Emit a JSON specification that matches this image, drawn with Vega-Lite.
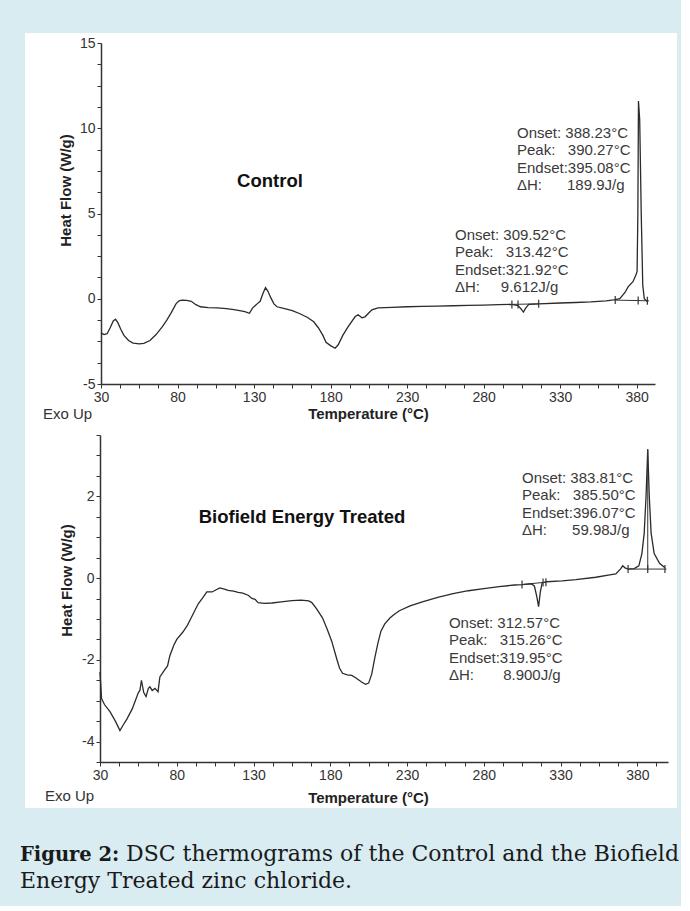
{
  "$schema": "https://vega.github.io/schema/vega-lite/v6.json",
  "background": "#d8ecf2",
  "padding": {"left": 20, "top": 33, "right": 2, "bottom": 0},
  "bounds": "flush",
  "spacing": 0,
  "config": {
    "font": "Liberation Sans",
    "view": {"stroke": null},
    "axis": {
      "grid": false,
      "labelFont": "Liberation Sans",
      "labelFontSize": 14,
      "labelColor": "#333",
      "domainColor": "#333",
      "domainWidth": 1.5,
      "tickColor": "#333",
      "tickWidth": 1,
      "titleFont": "Liberation Sans",
      "titleFontSize": 15,
      "titleFontWeight": "bold",
      "titleColor": "#222",
      "labelOverlap": false,
      "labelBound": false,
      "labelFlush": false
    }
  },
  "datasets": {
    "control": [
      {"T": 30, "HF": -2.0}, {"T": 32, "HF": -2.1}, {"T": 34, "HF": -2.05}, {"T": 36, "HF": -1.7},
      {"T": 38, "HF": -1.3}, {"T": 39.5, "HF": -1.2}, {"T": 41, "HF": -1.4}, {"T": 43, "HF": -1.8},
      {"T": 45, "HF": -2.15}, {"T": 48, "HF": -2.45}, {"T": 51, "HF": -2.6}, {"T": 55, "HF": -2.65},
      {"T": 58, "HF": -2.62}, {"T": 62, "HF": -2.45}, {"T": 66, "HF": -2.1}, {"T": 70, "HF": -1.65},
      {"T": 73, "HF": -1.25}, {"T": 76, "HF": -0.8}, {"T": 79, "HF": -0.3}, {"T": 81, "HF": -0.12},
      {"T": 83, "HF": -0.08}, {"T": 86, "HF": -0.1}, {"T": 89, "HF": -0.15}, {"T": 92, "HF": -0.35},
      {"T": 95, "HF": -0.47}, {"T": 100, "HF": -0.52}, {"T": 106, "HF": -0.53}, {"T": 112, "HF": -0.58},
      {"T": 118, "HF": -0.65}, {"T": 124, "HF": -0.75}, {"T": 127, "HF": -0.85}, {"T": 129, "HF": -0.55},
      {"T": 132, "HF": -0.3}, {"T": 134, "HF": -0.15}, {"T": 136, "HF": 0.35}, {"T": 137.5, "HF": 0.65},
      {"T": 139, "HF": 0.45}, {"T": 141, "HF": 0.05}, {"T": 143, "HF": -0.3}, {"T": 145, "HF": -0.47},
      {"T": 150, "HF": -0.58}, {"T": 155, "HF": -0.7}, {"T": 160, "HF": -0.88}, {"T": 165, "HF": -1.1},
      {"T": 169, "HF": -1.35}, {"T": 172, "HF": -1.7}, {"T": 175, "HF": -2.15}, {"T": 177, "HF": -2.55},
      {"T": 180, "HF": -2.75}, {"T": 183, "HF": -2.9}, {"T": 185, "HF": -2.7}, {"T": 188, "HF": -2.15},
      {"T": 191.4, "HF": -1.65}, {"T": 196, "HF": -1.06}, {"T": 198, "HF": -0.94}, {"T": 200.5, "HF": -1.12},
      {"T": 202.5, "HF": -1.06}, {"T": 207, "HF": -0.65}, {"T": 211, "HF": -0.53}, {"T": 220, "HF": -0.5},
      {"T": 230, "HF": -0.47}, {"T": 240, "HF": -0.45}, {"T": 250, "HF": -0.43}, {"T": 260, "HF": -0.41},
      {"T": 270, "HF": -0.39}, {"T": 280, "HF": -0.37}, {"T": 290, "HF": -0.35}, {"T": 298.5, "HF": -0.33},
      {"T": 302.5, "HF": -0.4}, {"T": 304.5, "HF": -0.6}, {"T": 306, "HF": -0.78}, {"T": 307.5, "HF": -0.55},
      {"T": 309.5, "HF": -0.33}, {"T": 316, "HF": -0.3}, {"T": 330, "HF": -0.25}, {"T": 340, "HF": -0.22},
      {"T": 350, "HF": -0.18}, {"T": 360, "HF": -0.12}, {"T": 365, "HF": -0.07}, {"T": 369, "HF": 0.0},
      {"T": 372.4, "HF": 0.37}, {"T": 374.4, "HF": 0.7}, {"T": 377.6, "HF": 1.0}, {"T": 379.6, "HF": 1.4},
      {"T": 380.3, "HF": 1.6}, {"T": 380.8, "HF": 5.0}, {"T": 381.2, "HF": 11.6}, {"T": 382.0, "HF": 10.5},
      {"T": 383.0, "HF": 5.0}, {"T": 384.0, "HF": 0.8}, {"T": 385.0, "HF": 0.0}, {"T": 387.4, "HF": -0.2}
    ],
    "treated": [
      {"T": 30, "HF": -2.3}, {"T": 31, "HF": -2.95}, {"T": 33, "HF": -3.1}, {"T": 36.5, "HF": -3.27},
      {"T": 40, "HF": -3.5}, {"T": 43, "HF": -3.73}, {"T": 45, "HF": -3.6}, {"T": 47.5, "HF": -3.45},
      {"T": 51, "HF": -3.2}, {"T": 53, "HF": -3.0}, {"T": 55, "HF": -2.8}, {"T": 56, "HF": -2.75},
      {"T": 57, "HF": -2.5}, {"T": 58.5, "HF": -2.8}, {"T": 60, "HF": -2.9}, {"T": 61.5, "HF": -2.7},
      {"T": 62.5, "HF": -2.66}, {"T": 64, "HF": -2.75}, {"T": 65.8, "HF": -2.7}, {"T": 67.8, "HF": -2.78},
      {"T": 69, "HF": -2.42}, {"T": 72, "HF": -2.25}, {"T": 74, "HF": -2.15}, {"T": 75.5, "HF": -1.9},
      {"T": 78, "HF": -1.65}, {"T": 80, "HF": -1.5}, {"T": 84, "HF": -1.32}, {"T": 87, "HF": -1.15},
      {"T": 90, "HF": -0.93}, {"T": 94, "HF": -0.63}, {"T": 97, "HF": -0.48}, {"T": 99.6, "HF": -0.34},
      {"T": 103, "HF": -0.34}, {"T": 106, "HF": -0.28}, {"T": 108, "HF": -0.24}, {"T": 111, "HF": -0.27},
      {"T": 113.5, "HF": -0.3}, {"T": 117, "HF": -0.32}, {"T": 120, "HF": -0.35}, {"T": 123, "HF": -0.37},
      {"T": 126.5, "HF": -0.42}, {"T": 129, "HF": -0.5}, {"T": 131, "HF": -0.52}, {"T": 133, "HF": -0.6},
      {"T": 137, "HF": -0.62}, {"T": 142, "HF": -0.61}, {"T": 148, "HF": -0.58}, {"T": 155, "HF": -0.55},
      {"T": 161, "HF": -0.54}, {"T": 166, "HF": -0.56}, {"T": 168, "HF": -0.6}, {"T": 171, "HF": -0.75},
      {"T": 175, "HF": -0.98}, {"T": 178, "HF": -1.25}, {"T": 181, "HF": -1.55}, {"T": 184, "HF": -1.95},
      {"T": 186, "HF": -2.2}, {"T": 188, "HF": -2.33}, {"T": 191, "HF": -2.37}, {"T": 194, "HF": -2.38},
      {"T": 197, "HF": -2.45}, {"T": 200.6, "HF": -2.55}, {"T": 203, "HF": -2.6}, {"T": 205, "HF": -2.57},
      {"T": 207, "HF": -2.35}, {"T": 209, "HF": -1.95}, {"T": 211, "HF": -1.6}, {"T": 213, "HF": -1.3},
      {"T": 215.5, "HF": -1.12}, {"T": 219, "HF": -0.97}, {"T": 222, "HF": -0.88}, {"T": 225, "HF": -0.8},
      {"T": 232, "HF": -0.68}, {"T": 240, "HF": -0.58}, {"T": 250, "HF": -0.47}, {"T": 260, "HF": -0.38},
      {"T": 270, "HF": -0.31}, {"T": 280, "HF": -0.26}, {"T": 290, "HF": -0.21}, {"T": 300, "HF": -0.17},
      {"T": 305, "HF": -0.16}, {"T": 311, "HF": -0.14}, {"T": 313, "HF": -0.2}, {"T": 314.5, "HF": -0.45},
      {"T": 315.7, "HF": -0.7}, {"T": 316.8, "HF": -0.35}, {"T": 318, "HF": -0.12}, {"T": 321, "HF": -0.09},
      {"T": 331, "HF": -0.07}, {"T": 340, "HF": -0.04}, {"T": 353, "HF": 0.02}, {"T": 362, "HF": 0.08},
      {"T": 366, "HF": 0.1}, {"T": 369, "HF": 0.22}, {"T": 370.5, "HF": 0.3}, {"T": 372, "HF": 0.25},
      {"T": 374, "HF": 0.22}, {"T": 378, "HF": 0.23}, {"T": 381, "HF": 0.3}, {"T": 383, "HF": 0.6},
      {"T": 384.5, "HF": 1.1}, {"T": 385.7, "HF": 2.0}, {"T": 386.8, "HF": 3.15}, {"T": 387.8, "HF": 2.0},
      {"T": 389, "HF": 1.1}, {"T": 391, "HF": 0.6}, {"T": 394.5, "HF": 0.36}, {"T": 398, "HF": 0.25}
    ],
    "control_ann": [
      {"kind": "title", "T": 140.4, "HF": 6.58, "label": "Control"},
      {"kind": "block", "T": 301.8, "HF": 9.43, "label": ["Onset: 388.23°C", "Peak:\u00a0\u00a0\u00a0390.27°C", "Endset:395.08°C", "ΔH:\u00a0\u00a0\u00a0\u00a0\u00a0\u00a0189.9J/g"]},
      {"kind": "block", "T": 261.3, "HF": 3.45, "label": ["Onset: 309.52°C", "Peak:\u00a0\u00a0\u00a0313.42°C", "Endset:321.92°C", "ΔH:\u00a0\u00a0\u00a0\u00a0\u00a09.612J/g"]}
    ],
    "treated_ann": [
      {"kind": "title", "T": 161.6, "HF": 1.35, "label": "Biofield Energy Treated"},
      {"kind": "block", "T": 304.9, "HF": 2.33, "label": ["Onset: 383.81°C", "Peak:\u00a0\u00a0\u00a0385.50°C", "Endset:396.07°C", "ΔH:\u00a0\u00a0\u00a0\u00a0\u00a0\u00a059.98J/g"]},
      {"kind": "block", "T": 257.3, "HF": -1.22, "label": ["Onset: 312.57°C", "Peak:\u00a0\u00a0\u00a0315.26°C", "Endset:319.95°C", "ΔH:\u00a0\u00a0\u00a0\u00a0\u00a0\u00a0\u00a08.900J/g"]}
    ],
    "control_marks": [
      {"T": 298.5, "HF": -0.33}, {"T": 302.5, "HF": -0.34}, {"T": 316, "HF": -0.3},
      {"T": 366, "HF": -0.08}, {"T": 381, "HF": -0.1}, {"T": 387, "HF": -0.12}
    ],
    "control_base": [
      {"T": 298.5, "T2": 316, "HF": -0.33, "HF2": -0.3},
      {"T": 366, "T2": 388, "HF": -0.08, "HF2": -0.12}
    ],
    "treated_marks": [
      {"T": 304.9, "HF": -0.16}, {"T": 318.6, "HF": -0.11}, {"T": 320.5, "HF": -0.1},
      {"T": 374, "HF": 0.22}, {"T": 386.8, "HF": 0.22}, {"T": 398, "HF": 0.22}
    ],
    "treated_base": [
      {"T": 304.9, "T2": 320.5, "HF": -0.16, "HF2": -0.1},
      {"T": 374, "T2": 399, "HF": 0.22, "HF2": 0.22},
      {"T": 386.8, "T2": 386.8, "HF": 0.22, "HF2": 3.15}
    ],
    "caption": [
      {"id": "a", "line": 1, "seg": "Figure 2:"},
      {"id": "b", "line": 1, "seg": "DSC thermograms of the Control and the Biofield"},
      {"id": "c", "line": 2, "seg": "Energy Treated zinc chloride."}
    ]
  },
  "vconcat": [
    {
      "width": 652,
      "height": 392,
      "view": {"fill": "white", "stroke": null},
      "resolve": {"axis": {"x": "independent", "y": "independent"}},
      "layer": [
        {
          "data": {"name": "control"},
          "mark": {"type": "line", "color": "#2b2b2b", "strokeWidth": 1.3},
          "encoding": {
            "x": {
              "field": "T", "type": "quantitative",
              "scale": {"domain": [30, 392], "range": [76, 630], "nice": false, "zero": false},
              "axis": {
                "orient": "bottom", "offset": -41, "title": "Temperature (°C)",
                "values": [30, 42.5, 55, 67.5, 80, 92.5, 105, 117.5, 130, 142.5, 155, 167.5, 180, 192.5, 205, 217.5, 230, 242.5, 255, 267.5, 280, 292.5, 305, 317.5, 330, 342.5, 355, 367.5, 380],
                "labelExpr": "(datum.value - 30) % 50 === 0 ? '' + datum.value : ''",
                "tickSize": 4,
                "labelPadding": 2,
                "titleX": 343, "titleY": 34, "titleBaseline": "alphabetic", "titleAlign": "center"
              }
            },
            "y": {
              "field": "HF", "type": "quantitative",
              "scale": {"domain": [-5, 15], "range": [351, 10], "nice": false, "zero": false},
              "axis": {
                "orient": "left", "offset": -76, "title": "Heat Flow (W/g)",
                "values": [-5, -3.75, -2.5, -1.25, 0, 1.25, 2.5, 3.75, 5, 6.25, 7.5, 8.75, 10, 11.25, 12.5, 13.75, 15],
                "labelExpr": "datum.value % 5 === 0 ? '' + datum.value : ''",
                "tickSize": 4,
                "labelPadding": 2,
                "titleX": -36, "titleY": 157, "titleBaseline": "middle", "titleAlign": "center"
              }
            }
          }
        },
        {
          "data": {"name": "control_base"},
          "mark": {"type": "rule", "color": "#333", "strokeWidth": 1},
          "encoding": {
            "x": {"field": "T", "type": "quantitative", "axis": null},
            "x2": {"field": "T2"},
            "y": {"field": "HF", "type": "quantitative", "axis": null},
            "y2": {"field": "HF2"}
          }
        },
        {
          "data": {"name": "control_marks"},
          "mark": {"type": "point", "shape": "M0,-1L0,1", "size": 64, "stroke": "#333", "strokeWidth": 1.2, "filled": false, "opacity": 1},
          "encoding": {
            "x": {"field": "T", "type": "quantitative", "axis": null},
            "y": {"field": "HF", "type": "quantitative", "axis": null}
          }
        },
        {
          "data": {"name": "control_ann"},
          "transform": [{"filter": "datum.kind === 'title'"}],
          "mark": {"type": "text", "align": "center", "baseline": "alphabetic", "fontSize": 18.5, "fontWeight": "bold", "color": "#111"},
          "encoding": {
            "x": {"field": "T", "type": "quantitative", "axis": null},
            "y": {"field": "HF", "type": "quantitative", "axis": null},
            "text": {"field": "label"}
          }
        },
        {
          "data": {"name": "control_ann"},
          "transform": [{"filter": "datum.kind === 'block'"}],
          "mark": {"type": "text", "align": "left", "baseline": "alphabetic", "fontSize": 15, "lineHeight": 17.5, "color": "#3a3a3a"},
          "encoding": {
            "x": {
              "field": "T", "type": "quantitative",
              "axis": {"orient": "top", "labels": false, "ticks": false, "domain": false, "title": "Exo Up",
                       "titleX": 42, "titleY": 380, "titleFontWeight": "normal", "titleFontSize": 15, "titleColor": "#333",
                       "titleAlign": "center", "titleBaseline": "middle", "titleAngle": 0}
            },
            "y": {"field": "HF", "type": "quantitative", "axis": null},
            "text": {"field": "label"}
          }
        }
      ]
    },
    {
      "width": 652,
      "height": 383,
      "view": {"fill": "white", "stroke": null},
      "resolve": {"axis": {"x": "independent", "y": "independent"}},
      "layer": [
        {
          "data": {"name": "treated"},
          "mark": {"type": "line", "color": "#2b2b2b", "strokeWidth": 1.3},
          "encoding": {
            "x": {
              "field": "T", "type": "quantitative",
              "scale": {"domain": [30, 400], "range": [75, 643], "nice": false, "zero": false},
              "axis": {
                "orient": "bottom", "offset": -46, "title": "Temperature (°C)",
                "values": [30, 42.5, 55, 67.5, 80, 92.5, 105, 117.5, 130, 142.5, 155, 167.5, 180, 192.5, 205, 217.5, 230, 242.5, 255, 267.5, 280, 292.5, 305, 317.5, 330, 342.5, 355, 367.5, 380, 392.5],
                "labelExpr": "(datum.value - 30) % 50 === 0 ? '' + datum.value : ''",
                "tickSize": 4,
                "labelPadding": 2,
                "titleX": 343, "titleY": 40, "titleBaseline": "alphabetic", "titleAlign": "center"
              }
            },
            "y": {
              "field": "HF", "type": "quantitative",
              "scale": {"domain": [-4.5, 3.5], "range": [337, 10], "nice": false, "zero": false},
              "axis": {
                "orient": "left", "offset": -75, "title": "Heat Flow (W/g)",
                "values": [-4.5, -4, -3.5, -3, -2.5, -2, -1.5, -1, -0.5, 0, 0.5, 1, 1.5, 2, 2.5, 3, 3.5],
                "labelExpr": "datum.value % 2 === 0 ? '' + datum.value : ''",
                "tickSize": 4,
                "labelPadding": 2,
                "titleX": -34, "titleY": 155, "titleBaseline": "middle", "titleAlign": "center"
              }
            }
          }
        },
        {
          "data": {"name": "treated_base"},
          "mark": {"type": "rule", "color": "#333", "strokeWidth": 1},
          "encoding": {
            "x": {"field": "T", "type": "quantitative", "axis": null},
            "x2": {"field": "T2"},
            "y": {"field": "HF", "type": "quantitative", "axis": null},
            "y2": {"field": "HF2"}
          }
        },
        {
          "data": {"name": "treated_marks"},
          "mark": {"type": "point", "shape": "M0,-1L0,1", "size": 64, "stroke": "#333", "strokeWidth": 1.2, "filled": false, "opacity": 1},
          "encoding": {
            "x": {"field": "T", "type": "quantitative", "axis": null},
            "y": {"field": "HF", "type": "quantitative", "axis": null}
          }
        },
        {
          "data": {"name": "treated_ann"},
          "transform": [{"filter": "datum.kind === 'title'"}],
          "mark": {"type": "text", "align": "center", "baseline": "alphabetic", "fontSize": 18.5, "fontWeight": "bold", "color": "#111"},
          "encoding": {
            "x": {"field": "T", "type": "quantitative", "axis": null},
            "y": {"field": "HF", "type": "quantitative", "axis": null},
            "text": {"field": "label"}
          }
        },
        {
          "data": {"name": "treated_ann"},
          "transform": [{"filter": "datum.kind === 'block'"}],
          "mark": {"type": "text", "align": "left", "baseline": "alphabetic", "fontSize": 15, "lineHeight": 17.5, "color": "#3a3a3a"},
          "encoding": {
            "x": {
              "field": "T", "type": "quantitative",
              "axis": {"orient": "top", "labels": false, "ticks": false, "domain": false, "title": "Exo Up",
                       "titleX": 44, "titleY": 370, "titleFontWeight": "normal", "titleFontSize": 15, "titleColor": "#333",
                       "titleAlign": "center", "titleBaseline": "middle", "titleAngle": 0}
            },
            "y": {"field": "HF", "type": "quantitative", "axis": null},
            "text": {"field": "label"}
          }
        }
      ]
    },
    {
      "width": 652,
      "height": 98,
      "view": {"stroke": null},
      "data": {"name": "caption"},
      "layer": [
        {
          "transform": [{"filter": "datum.id === 'a'"}],
          "mark": {"type": "text", "align": "left", "baseline": "alphabetic", "font": "DejaVu Serif", "fontSize": 19.5, "fontWeight": "bold", "color": "#1a1a1a", "dx": -5},
          "encoding": {
            "x": {"value": 0},
            "y": {"field": "line", "type": "ordinal", "axis": null, "scale": {"type": "point", "range": [53, 80], "padding": 0}},
            "text": {"field": "seg"}
          }
        },
        {
          "transform": [{"filter": "datum.id === 'b'"}],
          "mark": {"type": "text", "align": "left", "baseline": "alphabetic", "font": "DejaVu Serif", "fontSize": 22, "color": "#1a1a1a", "dx": 101},
          "encoding": {
            "x": {"value": 0},
            "y": {"field": "line", "type": "ordinal", "axis": null},
            "text": {"field": "seg"}
          }
        },
        {
          "transform": [{"filter": "datum.id === 'c'"}],
          "mark": {"type": "text", "align": "left", "baseline": "alphabetic", "font": "DejaVu Serif", "fontSize": 22, "color": "#1a1a1a", "dx": -5},
          "encoding": {
            "x": {"value": 0},
            "y": {"field": "line", "type": "ordinal", "axis": null},
            "text": {"field": "seg"}
          }
        }
      ]
    }
  ]
}
